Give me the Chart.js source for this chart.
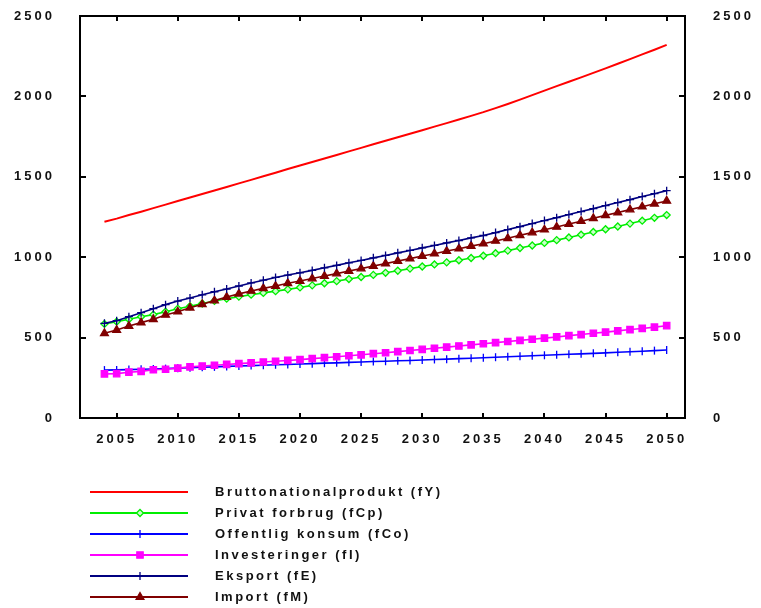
<!DOCTYPE html>
<html>
<head>
<meta charset="utf-8">
<script src="https://cdn.jsdelivr.net/npm/chart.js@4/dist/chart.umd.min.js"></script>
<style>
html,body{margin:0;padding:0;background:#fff;}
#wrap{width:761px;height:608px;position:relative;}
</style>
</head>
<body>
<div id="wrap"><canvas id="c" width="761" height="608"></canvas></div>
<script>
// ---- Data ----
const years = [2004,2005,2006,2007,2008,2009,2010,2011,2012,2013,2014,2015,2016,2017,2018,2019,2020,2021,2022,2023,2024,2025,2026,2027,2028,2029,2030,2031,2032,2033,2034,2035,2036,2037,2038,2039,2040,2041,2042,2043,2044,2045,2046,2047,2048,2049,2050];

const seriesNames = [
  'Bruttonationalprodukt (fY)',
  'Privat forbrug (fCp)',
  'Offentlig konsum (fCo)',
  'Investeringer (fI)',
  'Eksport (fE)',
  'Import (fM)'
];

const fY  = [1220,1240,1262,1283,1305,1327,1349,1371,1393,1415,1437,1459,1481,1503,1525,1548,1570,1592,1614,1636,1658,1680,1702,1724,1746,1768,1790,1812,1834,1856,1879,1902,1927,1953,1980,2008,2036,2064,2091,2118,2146,2174,2203,2232,2261,2290,2320];
const fCp = [585,599,614,630,643,661,680,695,712,728,742,755,767,778,789,800,812,825,838,851,864,877,890,903,916,929,942,955,968,981,995,1009,1025,1041,1057,1073,1089,1106,1123,1140,1157,1174,1191,1209,1227,1245,1262];
const fCo = [298,299,301,303,305,307,310,313,316,318,321,323,326,328,331,333,336,338,341,343,346,348,351,353,356,358,361,364,366,369,372,375,378,381,384,387,390,393,396,399,402,405,409,412,415,419,423];
const fI  = [274,276,285,290,300,303,310,318,323,328,333,338,343,348,353,358,363,369,375,381,387,393,400,406,413,420,427,434,441,448,455,462,469,476,483,490,497,504,512,519,527,534,542,550,557,565,574];
const fE  = [589,605,630,655,680,705,727,746,766,785,802,821,840,857,874,889,903,918,934,949,965,980,996,1011,1027,1042,1058,1073,1089,1104,1120,1135,1153,1172,1190,1209,1228,1246,1265,1284,1302,1321,1340,1358,1377,1395,1414];
const fM  = [527,547,572,593,614,641,661,685,707,730,752,772,790,806,821,838,852,867,883,898,914,929,945,960,976,991,1007,1022,1038,1053,1069,1084,1101,1118,1136,1153,1171,1188,1206,1224,1242,1260,1278,1296,1314,1332,1350];

const xTickValues = [2005,2010,2015,2020,2025,2030,2035,2040,2045,2050];
const xTickLabels = ['2005','2010','2015','2020','2025','2030','2035','2040','2045','2050'];
const yTickValues = [0,500,1000,1500,2000,2500];
const yTickLabels = ['0','500','1000','1500','2000','2500'];

// ---- Styles ----
const FONT = '"Liberation Sans", Arial, sans-serif';
const styles = [
  {color:'#ff0000', pointStyle:false, radius:0, bg:'#ff0000', width:2},
  {color:'#00ee00', pointStyle:'rectRot', radius:3.5, bg:'#c8ffc8', width:1.6},
  {color:'#0000ff', pointStyle:'line', radius:4, rotation:90, bg:'#0000ff', width:1.6},
  {color:'#ff00ff', pointStyle:'rect', radius:4.5, bg:'#ff00ff', width:1.6},
  {color:'#000080', pointStyle:'cross', radius:4, bg:'#000080', width:1.6},
  {color:'#800000', pointStyle:'triangle', radius:4.5, bg:'#800000', width:1.6}
];
const values = [fY, fCp, fCo, fI, fE, fM];

const datasets = values.map((vals, i) => ({
  label: seriesNames[i],
  data: years.map((yr, k) => ({x: yr, y: vals[k]})),
  borderColor: styles[i].color,
  backgroundColor: styles[i].bg,
  borderWidth: styles[i].width,
  pointStyle: styles[i].pointStyle || 'circle',
  pointRadius: styles[i].radius,
  pointRotation: styles[i].rotation || 0,
  pointBorderColor: styles[i].color,
  pointBackgroundColor: styles[i].bg,
  pointBorderWidth: 1.3,
  tension: 0,
  fill: false
}));
datasets.forEach((d, i) => { d.order = [6,3,5,4,1,2][i]; });

// ---- Plugins ----
const spacingPlugin = {
  id: 'spacing',
  beforeUpdate(chart){ chart.ctx.letterSpacing = '3px'; },
  beforeDraw(chart){ chart.ctx.letterSpacing = '3px'; }
};

const framePlugin = {
  id: 'frame',
  afterDatasetsDraw(chart) {
    const {ctx, chartArea: a, scales: {x, y}} = chart;
    ctx.save();
    ctx.strokeStyle = '#000';
    ctx.lineWidth = 2;
    ctx.strokeRect(a.left, a.top, a.right - a.left, a.bottom - a.top);
    ctx.beginPath();
    xTickValues.forEach(v => {
      const px = Math.round(x.getPixelForValue(v));
      ctx.moveTo(px, a.bottom); ctx.lineTo(px, a.bottom - 5);
      ctx.moveTo(px, a.top); ctx.lineTo(px, a.top + 5);
    });
    yTickValues.forEach(v => {
      const py = Math.round(y.getPixelForValue(v));
      ctx.moveTo(a.left, py); ctx.lineTo(a.left + 6, py);
      ctx.moveTo(a.right, py); ctx.lineTo(a.right - 6, py);
    });
    ctx.stroke();
    ctx.restore();
  }
};

const legendPlugin = {
  id: 'bottomLegend',
  afterDraw(chart) {
    const ctx = chart.ctx;
    const x0 = 90, x1 = 188, xm = 140, tx = 215, y0 = 492, step = 21;
    ctx.save();
    ctx.letterSpacing = '2.5px';
    ctx.font = 'bold 13px ' + FONT;
    ctx.textBaseline = 'middle';
    ctx.textAlign = 'left';
    chart.data.datasets.forEach((d, i) => {
      const yy = y0 + i * step;
      ctx.strokeStyle = d.borderColor;
      ctx.lineWidth = 2;
      ctx.beginPath(); ctx.moveTo(x0, yy); ctx.lineTo(x1, yy); ctx.stroke();
      if (d.pointRadius > 0) {
        ctx.fillStyle = d.pointBackgroundColor;
        ctx.strokeStyle = d.pointBorderColor;
        ctx.lineWidth = 1.3;
        Chart.helpers.drawPoint(ctx, {pointStyle: d.pointStyle, radius: d.pointRadius, rotation: d.pointRotation, borderWidth: 1.3}, xm, yy);
      }
      ctx.fillStyle = '#111';
      ctx.fillText(d.label, tx, yy);
    });
    ctx.restore();
  }
};

const zeroPad = s => { s.paddingTop = 0; s.paddingBottom = 0; };

new Chart(document.getElementById('c'), {
  type: 'line',
  data: { datasets },
  options: {
    responsive: false,
    animation: false,
    events: [],
    layout: { padding: { top: 16, left: 0, right: 0, bottom: 0 } },
    plugins: { legend: { display: false }, tooltip: { enabled: false } },
    scales: {
      x: {
        type: 'linear',
        position: 'bottom',
        min: 2002,
        max: 2051.5,
        afterBuildTicks: s => { s.ticks = xTickValues.map(v => ({value: v})); },
        afterFit: s => { s.height = 190; s.paddingLeft = 0; s.paddingRight = 0; },
        grid: { display: false, drawTicks: false },
        border: { display: false },
        ticks: {
          autoSkip: false, maxRotation: 0, padding: 14,
          color: '#111', font: { family: FONT, size: 13, weight: 'bold' },
          callback: (v) => xTickLabels[xTickValues.indexOf(v)] ?? ''
        }
      },
      y: {
        type: 'linear',
        position: 'left',
        min: 0, max: 2500,
        afterBuildTicks: s => { s.ticks = yTickValues.map(v => ({value: v})); },
        afterFit: s => { s.width = 80; zeroPad(s); },
        grid: { display: false, drawTicks: false },
        border: { display: false },
        ticks: {
          padding: 25, color: '#111', font: { family: FONT, size: 13, weight: 'bold' },
          callback: (v) => yTickLabels[yTickValues.indexOf(v)] ?? ''
        }
      },
      y2: {
        type: 'linear',
        position: 'right',
        min: 0, max: 2500,
        afterBuildTicks: s => { s.ticks = yTickValues.map(v => ({value: v})); },
        afterFit: s => { s.width = 76; zeroPad(s); },
        grid: { display: false, drawTicks: false },
        border: { display: false },
        ticks: {
          padding: 28, color: '#111', font: { family: FONT, size: 13, weight: 'bold' },
          callback: (v) => yTickLabels[yTickValues.indexOf(v)] ?? ''
        }
      }
    }
  },
  plugins: [spacingPlugin, framePlugin, legendPlugin]
});
</script>
</body>
</html>
